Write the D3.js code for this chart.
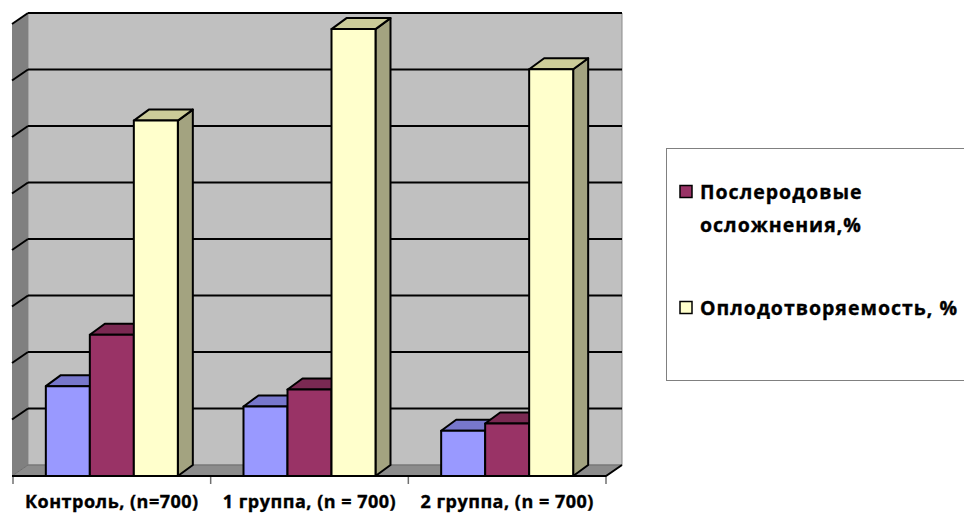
<!DOCTYPE html>
<html>
<head>
<meta charset="utf-8">
<script src="https://cdn.jsdelivr.net/npm/d3@7"></script>
<style>
  html, body { margin: 0; padding: 0; background: #ffffff; }
  svg { display: block; }
  text { font-family: "Open Sans", "DejaVu Sans", sans-serif; font-weight: bold; fill: #000; stroke: #000; stroke-width: 0.35px; }
</style>
</head>
<body>
<svg id="chart" width="964" height="513"></svg>
<script>
// Groups along the category axis
const categories = ["Контроль, (n=700)", "1 группа, (n = 700)", "2 группа, (n = 700)"];
// Series names (the first one has no entry in the legend)
const seriesNames = ["", "Послеродовые осложнения,%", "Оплодотворяемость, %"];
// Values per series, in category order
const seriesA = [15.9, 12.3, 8.0];
const seriesB = [25.0, 15.3, 9.3];
const seriesC = [62.9, 79.1, 72.0];
// Value axis gridline values
const gridTicks = [0, 10, 20, 30, 40, 50, 60, 70, 80];

const seriesValues = [seriesA, seriesB, seriesC];
const faceColors = ["#9999ff", "#993366", "#ffffcc"];
const topColors = ["#7777cc", "#7a2952", "#cccc99"];
const sideColors = ["#6b6bb3", "#6b2447", "#a3a380"];

const svg = d3.select("#chart");

// Oblique depth of the walls/floor and of the bars
const wallDx = 16, wallDy = 11;
const barDx = 15, barDy = 11;

const x0 = 12, x1 = 606;          // front floor edge
const y = d3.scaleLinear().domain([0, 80]).range([476, 24]);

const xCat = d3.scaleBand().domain(d3.range(categories.length)).range([x0 + 1, x1]).paddingInner(0).paddingOuter(0);
const innerW = 132;
const xSer = d3.scaleBand().domain(d3.range(seriesValues.length)).range([0, innerW]);

const poly = pts => pts.map(p => p.join(",")).join(" ");

// Back wall
svg.append("polygon")
  .attr("points", poly([[x0 + wallDx, y(80) - wallDy], [x1 + wallDx, y(80) - wallDy], [x1 + wallDx, y(0) - wallDy], [x0 + wallDx, y(0) - wallDy]]))
  .attr("fill", "#c0c0c0").attr("stroke", "#8a8a8a").attr("stroke-width", 1);

// Left wall
svg.append("polygon")
  .attr("points", poly([[x0, y(80)], [x0 + wallDx, y(80) - wallDy], [x0 + wallDx, y(0) - wallDy], [x0, y(0)]]))
  .attr("fill", "#808080");

// Gridlines on back and left walls
const grid = svg.append("g").attr("stroke", "#000").attr("stroke-width", 2).attr("fill", "none");
gridTicks.filter(t => t > 0).forEach(t => {
  grid.append("line")
    .attr("x1", x0 + wallDx).attr("x2", x1 + wallDx)
    .attr("y1", y(t) - wallDy).attr("y2", y(t) - wallDy);
  grid.append("line")
    .attr("x1", x0).attr("x2", x0 + wallDx)
    .attr("y1", y(t)).attr("y2", y(t) - wallDy);
});

// Floor
svg.append("polygon")
  .attr("points", poly([[x0, y(0)], [x1, y(0)], [x1 + wallDx, y(0) - wallDy], [x0 + wallDx, y(0) - wallDy]]))
  .attr("fill", "#8c8c8c").attr("stroke", "#6e6e6e").attr("stroke-width", 1);
svg.append("polyline")
  .attr("points", poly([[x0, y(0)], [x1, y(0)], [x1 + wallDx, y(0) - wallDy]]))
  .attr("fill", "none").attr("stroke", "#000").attr("stroke-width", 2);

// Category ticks under the floor edge
const tickXs = d3.range(categories.length + 1).map(i => i < categories.length ? xCat(i) : xCat(i - 1) + xCat.bandwidth());
svg.append("g").selectAll("line").data(tickXs).join("line")
  .attr("x1", d => d).attr("x2", d => d)
  .attr("y1", y(0) + 1).attr("y2", y(0) + 8)
  .attr("stroke", "#707070").attr("stroke-width", 1.5);

// Bars as oblique boxes
const bars = svg.append("g").attr("stroke", "#000").attr("stroke-width", 2).attr("stroke-linejoin", "round");
categories.forEach((c, ci) => {
  const gx = xCat(ci) + (xCat.bandwidth() - innerW) / 2;
  seriesValues.forEach((vals, si) => {
    const left = gx + xSer(si);
    const right = left + xSer.bandwidth();
    const top = y(vals[ci]);
    const bottom = y(0);
    bars.append("polygon")
      .attr("points", poly([[right, top], [right + barDx, top - barDy], [right + barDx, bottom - barDy], [right, bottom]]))
      .attr("fill", sideColors[si]);
    bars.append("polygon")
      .attr("points", poly([[left, top], [left + barDx, top - barDy], [right + barDx, top - barDy], [right, top]]))
      .attr("fill", topColors[si]);
    bars.append("rect")
      .attr("x", left).attr("y", top)
      .attr("width", right - left).attr("height", bottom - top)
      .attr("fill", faceColors[si]);
  });
});

// Category labels
svg.append("g").selectAll("text").data(categories).join("text")
  .attr("x", (d, i) => xCat(i) + xCat.bandwidth() / 2)
  .attr("y", 508)
  .attr("text-anchor", "middle")
  .attr("font-size", 18)
  .attr("letter-spacing", 0.5)
  .text(d => d);

// Legend
const legend = svg.append("g");
legend.append("rect")
  .attr("x", 666.5).attr("y", 148.5).attr("width", 320).attr("height", 232)
  .attr("fill", "#fff").attr("stroke", "#808080").attr("stroke-width", 1);

const legendItems = [
  { si: 1, lines: ["Послеродовые", "осложнения,%"], cy: 192 },
  { si: 2, lines: [seriesNames[2]], cy: 308 }
];
legendItems.forEach(item => {
  legend.append("rect")
    .attr("x", 680).attr("y", item.cy - 6.5).attr("width", 12).attr("height", 12)
    .attr("fill", faceColors[item.si]).attr("stroke", "#000").attr("stroke-width", 1.5);
  item.lines.forEach((ln, k) => {
    legend.append("text")
      .attr("x", 700).attr("y", item.cy + 7 + k * 33)
      .attr("font-size", 19.5)
      .attr("letter-spacing", 1)
      .text(ln);
  });
});
</script>
</body>
</html>
